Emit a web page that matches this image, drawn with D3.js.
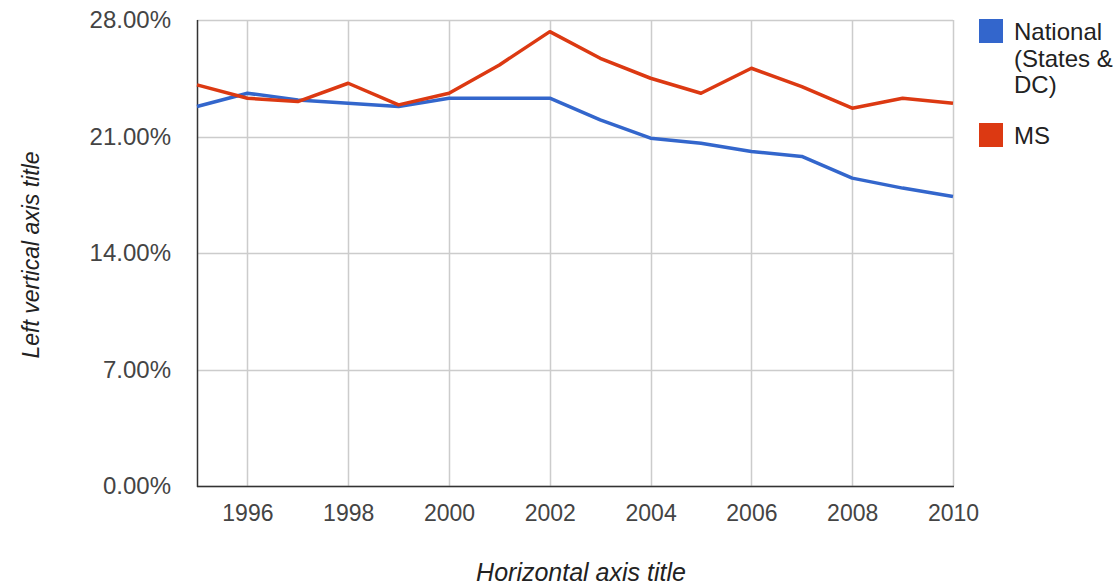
<!DOCTYPE html>
<html>
<head>
<meta charset="utf-8">
<script src="https://cdn.jsdelivr.net/npm/d3@7"></script>
<style>
  html, body { margin: 0; padding: 0; background: #fff; }
  svg { display: block; font-family: "Liberation Sans", Arial, sans-serif; }
</style>
</head>
<body>
<svg id="chart" width="1118" height="588"></svg>
<script>
const years = [1995, 1996, 1997, 1998, 1999, 2000, 2001, 2002, 2003, 2004, 2005, 2006, 2007, 2008, 2009, 2010];
const national = [22.8, 23.6, 23.2, 23.0, 22.8, 23.3, 23.3, 23.3, 22.0, 20.9, 20.6, 20.1, 19.8, 18.5, 17.9, 17.4];
const ms = [24.1, 23.3, 23.1, 24.2, 22.9, 23.6, 25.3, 27.3, 25.7, 24.5, 23.6, 25.1, 24.0, 22.7, 23.3, 23.0];
const seriesNames = ["National (States & DC)", "MS"];
const legendLines = [["National", "(States &", "DC)"], ["MS"]];
const xTicks = [1996, 1998, 2000, 2002, 2004, 2006, 2008, 2010];
const yTicks = [0, 7, 14, 21, 28];
const colors = ["#3366cc", "#dc3912"];

(function () {
const svg = d3.select("#chart");
const pL = 197, pR = 953, pT = 20, pB = 486;

const x = d3.scaleLinear().domain([1995, 2010]).range([pL, pR]);
const y = d3.scaleLinear().domain([0, 28]).range([pB, pT]);

// gridlines
const grid = svg.append("g");
grid.selectAll("line.h").data(yTicks).join("line")
  .attr("x1", pL).attr("x2", pR)
  .attr("y1", d => Math.round(y(d)) + 0.5).attr("y2", d => Math.round(y(d)) + 0.5)
  .attr("stroke", "#cccccc").attr("stroke-width", 1.5);
grid.selectAll("line.v").data(xTicks).join("line")
  .attr("y1", pT).attr("y2", pB)
  .attr("x1", d => Math.round(x(d)) + 0.5).attr("x2", d => Math.round(x(d)) + 0.5)
  .attr("stroke", "#cccccc").attr("stroke-width", 1.5);

// y axis labels
const yAxis = d3.axisLeft(y).tickValues(yTicks).tickSize(0).tickPadding(26)
  .tickFormat(d => d.toFixed(2) + "%");
const gy = svg.append("g").attr("transform", `translate(${pL},0)`).call(yAxis);
gy.select(".domain").remove();
gy.selectAll("text").attr("font-size", 24).attr("fill", "#444")
  .attr("font-family", "'Liberation Sans', Arial, sans-serif");

// x axis labels
const xAxis = d3.axisBottom(x).tickValues(xTicks).tickSize(0).tickPadding(19)
  .tickFormat(d3.format("d"));
const gx = svg.append("g").attr("transform", `translate(0,${pB})`).call(xAxis);
gx.select(".domain").remove();
gx.selectAll("text").attr("font-size", 23).attr("fill", "#444")
  .attr("font-family", "'Liberation Sans', Arial, sans-serif");

// axis baselines
svg.append("line").attr("x1", pL + 0.5).attr("x2", pL + 0.5).attr("y1", pT).attr("y2", pB + 1)
  .attr("stroke", "#333").attr("stroke-width", 1.5);
svg.append("line").attr("x1", pL).attr("x2", pR + 1).attr("y1", pB + 0.5).attr("y2", pB + 0.5)
  .attr("stroke", "#333").attr("stroke-width", 1.5);

// lines
const line = d3.line().x((d, i) => x(years[i])).y(d => y(d));
[national, ms].forEach((s, k) => {
  svg.append("path").datum(s).attr("d", line)
    .attr("fill", "none").attr("stroke", colors[k]).attr("stroke-width", 3.5)
    .attr("stroke-linejoin", "round");
});

// legend
const legend = svg.append("g");
const legendY = [19, 123];
legendLines.forEach((lines, k) => {
  legend.append("rect").attr("x", 979).attr("y", legendY[k]).attr("width", 24).attr("height", 24)
    .attr("fill", colors[k]);
  const t = legend.append("text").attr("x", 1014).attr("y", legendY[k] + 21)
    .attr("font-size", 24).attr("fill", "#222");
  lines.forEach((ln, j) => {
    t.append("tspan").attr("x", 1014).attr("dy", j === 0 ? 0 : 26.5).text(ln);
  });
});

// axis titles
svg.append("text").attr("x", 581).attr("y", 581).attr("text-anchor", "middle")
  .attr("font-size", 25).attr("font-style", "italic").attr("fill", "#222")
  .text("Horizontal axis title");
svg.append("text").attr("transform", "translate(39,255) rotate(-90)").attr("text-anchor", "middle")
  .attr("font-size", 23).attr("font-style", "italic").attr("fill", "#222")
  .text("Left vertical axis title");
})();
</script>
</body>
</html>
